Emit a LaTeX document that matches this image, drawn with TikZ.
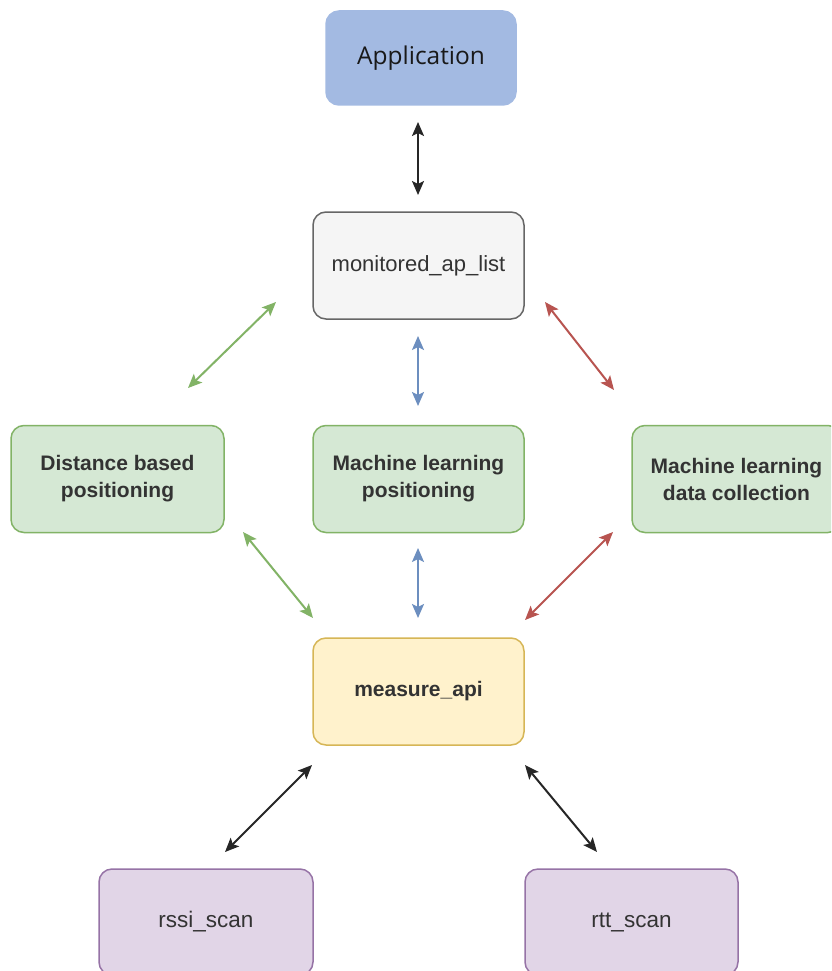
\documentclass[tikz,border=0pt]{standalone}
\usepackage{fontspec}
\setmainfont{Liberation Sans}
\newfontfamily\appfont{Open Sans}
\usetikzlibrary{arrows.meta,calc}
\definecolor{appfill}{HTML}{A3BAE2}
\definecolor{monfill}{HTML}{F5F5F5}
\definecolor{mondraw}{HTML}{666666}
\definecolor{grfill}{HTML}{D5E8D4}
\definecolor{grdraw}{HTML}{82B366}
\definecolor{yefill}{HTML}{FFF2CC}
\definecolor{yedraw}{HTML}{D6B656}
\definecolor{pufill}{HTML}{E1D5E7}
\definecolor{pudraw}{HTML}{9673A6}
\definecolor{bluearr}{HTML}{6C8EBF}
\definecolor{redarr}{HTML}{B85450}
\definecolor{txt}{HTML}{333333}
\tikzset{
  box/.style={rectangle, rounded corners=13pt, line width=1.5pt, minimum width=211pt, minimum height=107pt, align=center, text=txt, inner sep=0pt},
  boldtxt/.style={font=\fontsize{21}{27}\selectfont\bfseries},
  regtxt/.style={font=\fontsize{22}{27}\selectfont},
  scantxt/.style={font=\fontsize{22.5}{27}\selectfont},
  link/.style={line width=2pt, {Stealth[length=14pt,width=12pt,inset=3pt]}-{Stealth[length=14pt,width=12pt,inset=3pt]}},
  blk/.style={link, draw=black!85},
  grn/.style={link, draw=grdraw},
  blu/.style={link, draw=bluearr},
  rdd/.style={link, draw=redarr},
}
\begin{document}
\begin{tikzpicture}[x=1pt,y=-1pt]
\useasboundingbox (0,0) rectangle (831,971);
\clip (0,0) rectangle (831,971);
\fill[white] (0,0) rectangle (831,971);

\node[box, fill=appfill, draw=appfill, minimum width=190pt, minimum height=94pt, text=black!90, font=\appfont\fontsize{24.5}{27}\selectfont] (app) at (421,58) {Application};
\node[box, fill=monfill, draw=mondraw, regtxt] (mon) at (418.5,265.5) {monitored\_ap\_list};
\node[box, fill=grfill, draw=grdraw, boldtxt, minimum width=213pt] (dist) at (117.5,479) {Distance based\\positioning};
\node[box, fill=grfill, draw=grdraw, boldtxt] (mlp) at (418.5,479) {Machine learning\\positioning};
\node[box, fill=grfill, draw=grdraw, boldtxt, minimum width=209pt] (mldc) at (736.5,479) {Machine learning\\data collection};
\node[box, fill=yefill, draw=yedraw, boldtxt] (meas) at (418.5,691.5) {measure\_api};
\node[box, fill=pufill, draw=pudraw, scantxt, minimum width=214pt, minimum height=106pt] (rssi) at (206,922) {rssi\_scan};
\node[box, fill=pufill, draw=pudraw, scantxt, minimum width=213pt, minimum height=106pt] (rtt) at (631.5,922) {rtt\_scan};

% arrow end points
\coordinate (a1) at (418,122); \coordinate (a2) at (418,195);
\coordinate (g1) at (276,302); \coordinate (g2) at (188,388);
\coordinate (b1) at (418,336); \coordinate (b2) at (418,406);
\coordinate (r1) at (545,302); \coordinate (r2) at (614,390);
\coordinate (g3) at (243,532); \coordinate (g4) at (313,618);
\coordinate (b3) at (418,548); \coordinate (b4) at (418,618);
\coordinate (r3) at (613,532); \coordinate (r4) at (525,620);
\coordinate (k1) at (312,765); \coordinate (k2) at (225,852);
\coordinate (k3) at (525,765); \coordinate (k4) at (597,852);

\draw[blk] (a1) -- (a2);
\draw[grn] (g1) -- (g2);
\draw[blu] (b1) -- (b2);
\draw[rdd] (r1) -- (r2);
\draw[grn] (g3) -- (g4);
\draw[blu] (b3) -- (b4);
\draw[rdd] (r3) -- (r4);
\draw[blk] (k1) -- (k2);
\draw[blk] (k3) -- (k4);
\end{tikzpicture}
\end{document}
